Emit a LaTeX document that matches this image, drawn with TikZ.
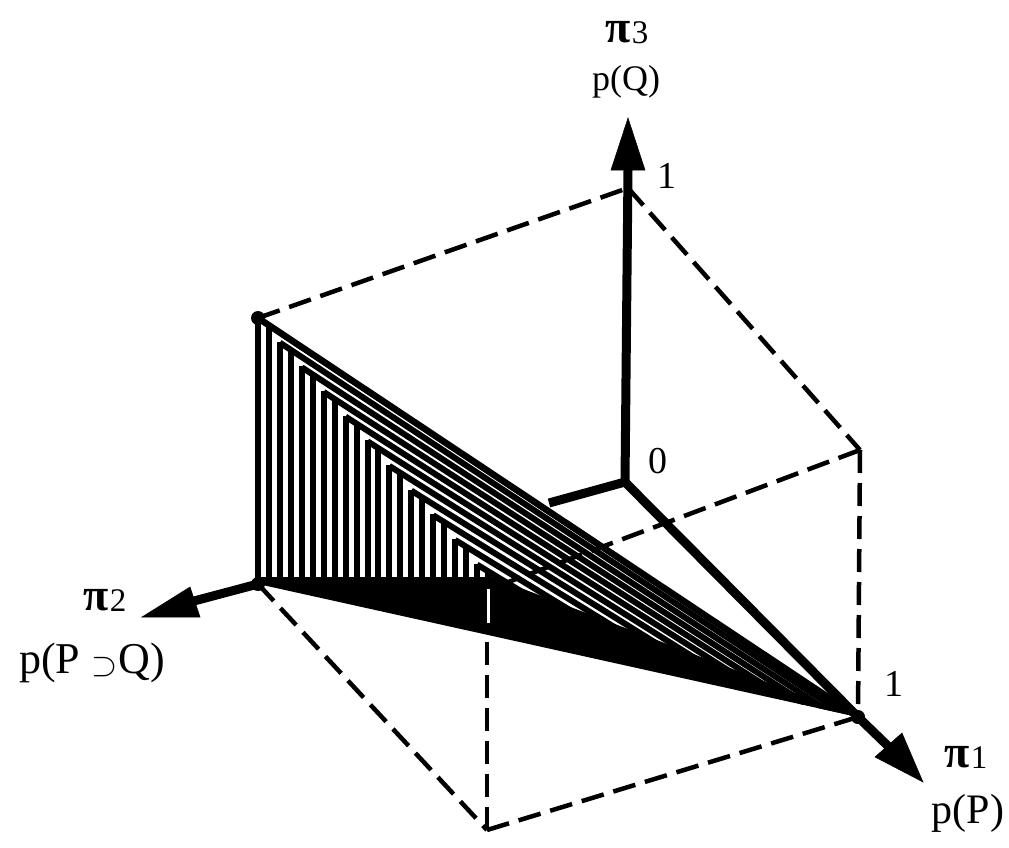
\documentclass[tikz,border=0pt]{standalone}
\usepackage{fontspec}
\setmainfont{Liberation Serif}
\newcommand{\pilabel}[1]{{\fontsize{46}{46}\selectfont\bfseries π}\kern1pt\raisebox{-1pt}{\fontsize{33}{33}\selectfont #1}}
\begin{document}
\begin{tikzpicture}[x=1pt,y=-1pt,
  axis/.style={line width=9pt},
  hatch/.style={line width=6pt},
  edge/.style={line width=6.5pt},
  dashline/.style={line width=4.5pt, dash pattern=on 23pt off 10pt},
  headfill/.style={fill=black, draw=black, line width=0.5pt},
  dot/.style={circle, fill=black, inner sep=0pt, minimum size=14pt},
  lbl/.style={inner sep=0pt, font=\fontsize{38}{38}\selectfont}]
\useasboundingbox (0,0) rectangle (1009,848);
% key points
\coordinate (O)  at (625,482);
\coordinate (Z1) at (628,188);
\coordinate (X1) at (858,717);
\coordinate (Y1) at (258,584);
\coordinate (T)  at (258,318);
\coordinate (XZ) at (860,450);
\coordinate (XY) at (487,830);
\coordinate (M)  at (487,590);
% dashed cube edges
\draw[dashline] (T) -- (Z1);
\draw[dashline] (Z1) -- (XZ);
\draw[dashline] (XZ) -- (X1);
\draw[dashline] (XZ) -- (M);
\draw[dashline] (Y1) -- (XY);
\draw[dashline] (XY) -- (X1);
\draw[dashline] (XY) -- (M);
% hatched triangle, clipped to the triangle T-Y1-X1
\begin{scope}
  \clip (T) -- (Y1) -- (X1) -- cycle;
  \foreach \k in {0,...,10} {
    \pgfmathsetmacro\sx{258+21.9*\k}
    \pgfmathsetmacro\sy{318+24.66*\k}
    \pgfmathsetmacro\m{0.665-0.006*\k}
    \pgfmathsetmacro\ex{(\sy-\m*\sx-577+0.3825*492)/(0.3825-\m)+25}
    \pgfmathsetmacro\ey{\sy+\m*(\ex-\sx)}
    \pgfmathsetmacro\vx{\sx+10.95}
    \pgfmathsetmacro\vy{\sy+\m*10.95}
    \draw[hatch] (\sx,\sy) -- (\ex,\ey);
    \draw[hatch] (\sx,\sy-1) -- (\sx,580);
    \draw[hatch] (\vx,\vy) -- (\vx,580);
  }
  % solid lower wedge
  \fill[black] (250,577) -- (492,577) -- (X1) -- (Y1) -- cycle;
\end{scope}
% outer edges of the triangle
\draw[edge] (T) -- (X1);
\draw[edge] (T) -- (Y1);
% white dash of hidden edge inside the black wedge
\draw[white, line width=3pt] (488,589) -- (488,623);
% axes
\draw[axis] (O) -- (628,170);
\draw[headfill] (628,118) -- (645,170) -- (611,170) -- cycle;
\draw[axis] (O) -- (X1);
\draw[axis] (X1) -- (888,746);
\draw[headfill] (923,782) -- (875,757) -- (902,733) -- cycle;
\draw[axis] (O) -- (549,503);
\draw[axis] (Y1) -- (194,601);
\draw[headfill] (142,617) -- (190,587) -- (200,617) -- cycle;
% dots
\node[dot] (dT) at (T) {};
\node[dot] (dY) at (Y1) {};
\node[dot] (dX) at (X1) {};
% labels
\node[inner sep=0pt] (l3) at (627,33) {\pilabel{3}};
\node[lbl, font=\fontsize{36}{36}\selectfont] (q3) at (626,82) {p(Q)};
\node[lbl] (one3) at (667,176) {1};
\node[lbl] (zero) at (658,461) {0};
\node[inner sep=0pt] (l2) at (105,600) {\pilabel{2}};
\node[lbl, font=\fontsize{44}{44}\selectfont] (q2) at (92,663) {p(P \raisebox{-2pt}{\scalebox{1.35}{$\supset$}}\kern1pt Q)};
\node[lbl] (one1) at (894,684) {1};
\node[inner sep=0pt] (l1) at (966,757) {\pilabel{1}};
\node[lbl, font=\fontsize{42}{42}\selectfont] (q1) at (968,813) {p(P)};
\end{tikzpicture}
\end{document}
